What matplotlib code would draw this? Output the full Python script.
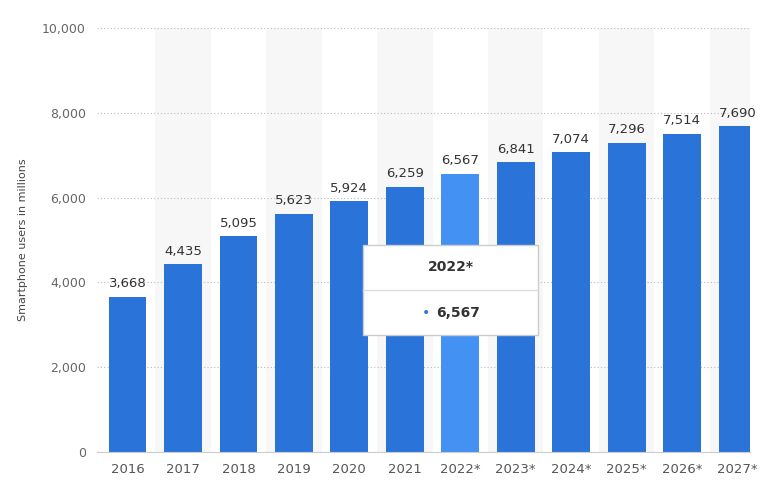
import matplotlib.pyplot as plt
from matplotlib.patches import Rectangle

years  = ['2016', '2017', '2018', '2019', '2020', '2021', '2022*', '2023*',
          '2024*', '2025*', '2026*', '2027*']
users  = [3668, 4435, 5095, 5623, 5924, 6259, 6567, 6841, 7074, 7296, 7514, 7690]
yticks = [0, 2000, 4000, 6000, 8000, 10000]

BAR   = '#2a74d9'
HILITE = '#4391f2'

fig = plt.figure(figsize=(7.79, 4.98), dpi=100)
ax = fig.add_axes([0.1245, 0.0924, 0.838, 0.851])

x = list(range(len(years)))
# alternating background bands
for i in x:
    if i % 2 == 1:
        ax.axvspan(i - 0.5, i + 0.5, color='#f7f7f7', zorder=0, lw=0)

colors = [HILITE if y == '2022*' else BAR for y in years]
ax.bar(x, users, width=0.68, color=colors, zorder=2)
for i, v in zip(x, users):
    ax.text(i, v + 150, f'{v:,}', ha='center', va='bottom', fontsize=9.5,
            color='#333333', zorder=3)

ax.set_xlim(-0.55, 11.22)
ax.set_ylim(0, 10000)
ax.set_yticks(yticks)
ax.set_yticklabels([f'{t:,}' for t in yticks], color='#666666', fontsize=9)
ax.set_xticks(x)
ax.set_xticklabels(years, color='#555555', fontsize=9.5)
ax.tick_params(length=0, pad=8)
ax.yaxis.grid(True, linestyle=(0, (1, 2)), color='#bbbbbb', lw=0.8, zorder=1)
for s in ['top', 'right', 'left']:
    ax.spines[s].set_visible(False)
ax.spines['bottom'].set_color('#cccccc')
ax.set_ylabel('Smartphone users in millions', fontsize=8, color='#444444', labelpad=10)

# tooltip
tx, ty, tw, th = 363 / 779, 1 - 335 / 498, 175 / 779, 90 / 498
fig.patches.append(Rectangle((tx, ty), tw, th, transform=fig.transFigure,
                             facecolor='white', edgecolor='#cccccc', lw=1, zorder=5))
fig.lines.append(plt.Line2D([tx, tx + tw], [ty + th * 0.5] * 2, transform=fig.transFigure,
                            color='#dddddd', lw=1, zorder=6))
fig.text(tx + tw / 2, ty + th * 0.76, '2022*', ha='center', va='center',
         fontsize=10, fontweight='bold', color='#333333', zorder=7)
fig.text(tx + tw / 2 - 0.032, ty + th * 0.24, '•', ha='center', va='center',
         fontsize=10, color=BAR, zorder=7)
fig.text(tx + tw / 2 + 0.01, ty + th * 0.24, '6,567', ha='center', va='center',
         fontsize=10, fontweight='bold', color='#333333', zorder=7)

fig.savefig('out.png', dpi=100)
